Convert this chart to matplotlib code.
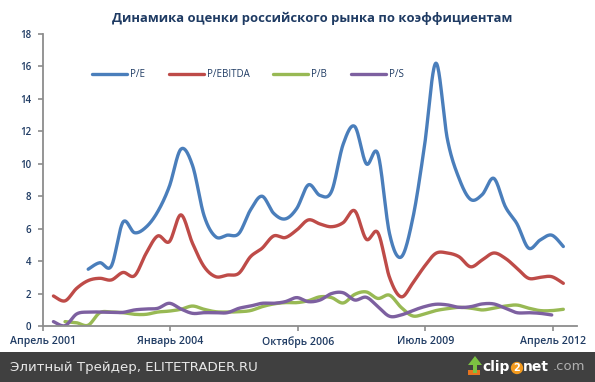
import numpy as np
import matplotlib
matplotlib.use("Agg")
import matplotlib.pyplot as plt
from matplotlib.patches import Rectangle, Polygon

# ---------------- data (quarterly observations) ----------------
tick_labels = ["Апрель 2001", "Январь 2004", "Октябрь 2006", "Июль 2009", "Апрель 2012"]
series_names = ["P/E", "P/EBITDA", "P/B", "P/S"]

pe = [None, None, None, 3.5, 3.9, 3.7, 6.4, 5.75, 6.1, 7.05, 8.6, 10.9, 9.9, 6.8, 5.5,
      5.6, 5.7, 7.15, 8.0, 6.95, 6.6, 7.25, 8.7, 8.05, 8.3, 11.2, 12.3, 10.0, 10.6, 5.7,
      4.25, 6.6, 11.0, 16.2, 11.5, 9.1, 7.8, 8.1, 9.1, 7.35, 6.3, 4.8, 5.3, 5.6, 4.9]
pebitda = [1.85, 1.55, 2.32, 2.8, 2.94, 2.84, 3.3, 3.1, 4.48, 5.55, 5.2, 6.85, 5.1, 3.66, 3.04,
           3.14, 3.25, 4.27, 4.79, 5.55, 5.45, 5.92, 6.54, 6.29, 6.12, 6.37, 7.1, 5.35, 5.75, 3.0,
           1.8, 2.63, 3.66, 4.48, 4.5, 4.27, 3.65, 4.07, 4.5, 4.17, 3.56, 2.94, 3.0, 3.04, 2.63]
pb = [None, 0.27, 0.2, 0.05, 0.82, 0.86, 0.82, 0.72, 0.72, 0.86, 0.92, 1.03, 1.23, 1.03, 0.88,
      0.86, 0.88, 0.95, 1.19, 1.36, 1.44, 1.44, 1.56, 1.8, 1.75, 1.42, 1.95, 2.1, 1.7, 1.9,
      1.15, 0.62, 0.74, 0.95, 1.07, 1.15, 1.1, 0.99, 1.1, 1.23, 1.29, 1.1, 0.95, 0.95, 1.03]
ps = [0.27, 0.02, 0.74, 0.86, 0.86, 0.84, 0.84, 0.99, 1.05, 1.09, 1.4, 1.05, 0.78, 0.82, 0.82,
      0.82, 1.09, 1.23, 1.4, 1.4, 1.5, 1.75, 1.5, 1.6, 2.0, 2.05, 1.6, 1.77, 1.19, 0.6,
      0.68, 0.95, 1.19, 1.34, 1.3, 1.15, 1.19, 1.36, 1.36, 1.09, 0.82, 0.82, 0.78, 0.68, None]

colors = ["#4A7EBB", "#BE4B48", "#98B954", "#7D60A0"]
navy = "#1F3B63"


def smooth(xs, ys, n=24):
    """Excel-like smoothed line (Catmull-Rom as cubic Bezier) through the points."""
    pts = [(x, y) for x, y in zip(xs, ys) if y is not None]
    P = np.array(pts, dtype=float)
    if len(P) < 3:
        return P[:, 0], P[:, 1]
    out = []
    t = np.linspace(0, 1, n)[:, None]
    for i in range(len(P) - 1):
        p0 = P[i - 1] if i > 0 else P[i]
        p1, p2 = P[i], P[i + 1]
        p3 = P[i + 2] if i + 2 < len(P) else P[i + 1]
        c1 = p1 + (p2 - p0) / 6.0
        c2 = p2 - (p3 - p1) / 6.0
        seg = ((1 - t) ** 3) * p1 + 3 * ((1 - t) ** 2) * t * c1 + 3 * (1 - t) * t ** 2 * c2 + t ** 3 * p2
        out.append(seg if i == 0 else seg[1:])
    S = np.vstack(out)
    return S[:, 0], S[:, 1]


plt.rcParams['font.family'] = ['Open Sans', 'DejaVu Sans']

fig = plt.figure(figsize=(5.95, 3.82), dpi=100)
fig.patch.set_facecolor("white")
ax = fig.add_axes([43 / 595, 1 - 326 / 382, (577 - 43) / 595, (326 - 34) / 382])

x = np.arange(len(pebitda))
for name, data, c in zip(series_names, [pe, pebitda, pb, ps], colors):
    sx, sy = smooth(x, data)
    ax.plot(sx, sy, color=c, lw=2.4, solid_capstyle='round', label=name)

ax.set_ylim(0, 18)
ax.set_yticks(np.arange(0, 19, 2))
x0 = -0.9
ax.set_xlim(x0, 45.18)
ax.set_xticks([x0 + 11 * k for k in range(len(tick_labels))])
ax.set_xticklabels(tick_labels)

for s in ["top", "right"]:
    ax.spines[s].set_visible(False)
for s in ["left", "bottom"]:
    ax.spines[s].set_color("#8C8C8C")
    ax.spines[s].set_linewidth(1.3)
ax.tick_params(axis='both', direction='out', length=3.5, width=1.2, color="#8C8C8C",
               labelcolor=navy, labelsize=7)
ax.tick_params(axis='x', labelsize=7.6, pad=4)
ax.tick_params(axis='y', pad=5)
for lab in ax.get_xticklabels() + ax.get_yticklabels():
    lab.set_fontweight('semibold')

leg = ax.legend(loc='upper left', bbox_to_anchor=(0.075, 0.91), ncol=4, frameon=False,
                handlelength=3.6, handletextpad=0.35, columnspacing=2.4, fontsize=7)
for t in leg.get_texts():
    t.set_color(navy)

fig.text(0.524, 1 - 18 / 382, "Динамика оценки российского рынка по коэффициентам",
         ha='center', va='center', fontsize=9.4, fontweight='bold', color=navy)

# footer bar
fig.patches.append(Rectangle((0, 0), 1, 30 / 382, transform=fig.transFigure,
                             facecolor="#404040", edgecolor='none', zorder=0))
fig.text(10 / 595, 15 / 382, "Элитный Трейдер, ELITETRADER.RU", ha='left', va='center',
         fontsize=9.6, color="#E8E8E8", family=['DejaVu Sans'])

# clip2net logo
fig.patches.append(Polygon([[468 / 595, 7 / 382], [480 / 595, 7 / 382], [480 / 595, 12 / 382],
                            [468 / 595, 12 / 382]], closed=True, transform=fig.transFigure,
                           facecolor="#E8741E", edgecolor='none'))
fig.patches.append(Polygon([[473 / 595, 9 / 382], [477 / 595, 9 / 382], [477 / 595, 17 / 382],
                            [482 / 595, 17 / 382], [475 / 595, 26 / 382], [468 / 595, 17 / 382],
                            [473 / 595, 17 / 382]], closed=True, transform=fig.transFigure,
                           facecolor="#7CC242", edgecolor='none'))
logo_font = ['DejaVu Sans']
fig.text(482 / 595, 15 / 382, "clip", ha='left', va='center', fontsize=10, fontweight='bold',
         color='white', family=logo_font)
fig.text(517 / 595, 14 / 382, "2", ha='center', va='center', fontsize=7, fontweight='bold',
         color='white', family=logo_font,
         bbox=dict(boxstyle='circle,pad=0.12', fc='#F39A1E', ec='none'))
fig.text(523 / 595, 15 / 382, "net", ha='left', va='center', fontsize=10, fontweight='bold',
         color='white', family=logo_font)
fig.text(553 / 595, 15 / 382, ".com", ha='left', va='center', fontsize=9.5,
         color='#B0B0B0', family=logo_font)

fig.savefig("out.png", dpi=100, facecolor=fig.get_facecolor())
